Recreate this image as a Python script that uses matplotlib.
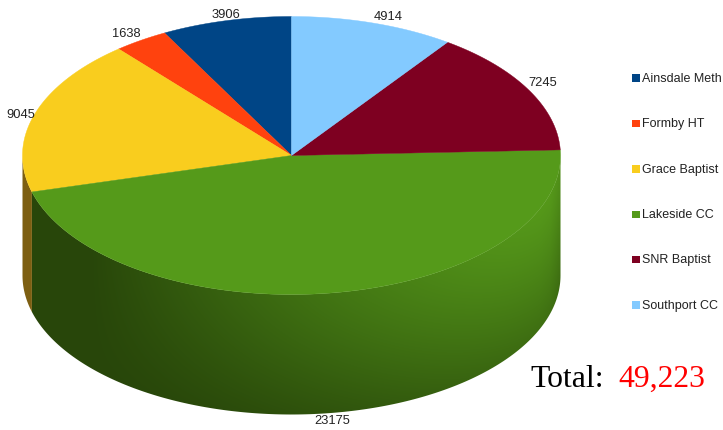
import numpy as np
import matplotlib
matplotlib.use('Agg')
import matplotlib.pyplot as plt
from matplotlib.patches import Polygon

names = ['Ainsdale Meth', 'Formby HT', 'Grace Baptist', 'Lakeside CC', 'SNR Baptist', 'Southport CC']
votes = [3906, 1638, 9045, 23175, 7245, 4914]
total_text = '49,223'

colors = ['#004586', '#ff420e', '#f9cd1e', '#559a1a', '#7e0021', '#83caff']
wall_colors = ['#002a50', '#99280a', '#7d5f12', '#2a4a0b', '#5a0a1a', '#4f7999']

#-----------------------------------#
cx, cy = 291.5, 155.5  # centre of the top face
rx, ry = 269, 139      # radii of the top ellipse
depth = 120            # height of the cylinder wall
#-----------------------------------#

def rim(angle_deg):
    '''point on the top ellipse, angle measured anticlockwise from 12 o'clock'''
    t = np.radians(angle_deg)
    return cx - rx * np.sin(t), cy - ry * np.cos(t)

def wall_shade(x, y):
    '''brightness 0-1 of the side wall: lit towards the upper right'''
    u = np.clip((x - cx) / rx, -1, 1)
    v = np.clip((y - (cy + ry * np.sqrt(1 - u**2))) / depth, 0, 1)
    h = np.clip((x - 90) / 450, 0, 1)
    k = 0.95 - 0.45 * h
    f = h**0.9 * (1 - k * v**1.2)
    # edge of the cylinder falls off slightly
    f = f * (1 - 0.1 * np.clip((x - 550) / 10, 0, 1))
    return np.clip(f, 0, 1)

fig = plt.figure(figsize=(7.23, 4.30), dpi=100)
ax = fig.add_axes([0, 0, 1, 1])
ax.set_xlim(0, 723)
ax.set_ylim(430, 0)
ax.axis('off')

shares = np.array(votes) / sum(votes) * 360
ends = np.cumsum(shares)
starts = ends - shares

# side wall first, only the part facing the viewer (90-270 degrees)
for i in range(len(votes)):
    a0 = max(starts[i], 90)
    a1 = min(ends[i], 270)
    if a1 <= a0:
        continue
    xs, ys = rim(np.linspace(a0, a1, 200))
    outline = np.r_[np.c_[xs, ys], np.c_[xs[::-1], ys[::-1] + depth]]
    if names[i] == 'Lakeside CC':
        gx, gy = np.meshgrid(np.arange(0, 723) + 0.5, np.arange(0, 430) + 0.5)
        f = wall_shade(gx, gy)[..., None]
        dark = np.array([40, 70, 10]) / 255
        light = np.array([85, 152, 26]) / 255
        im = ax.imshow(dark + (light - dark) * f, extent=(0, 723, 430, 0), aspect='auto', zorder=1)
        patch = Polygon(outline, closed=True, fc='none', ec='none', transform=ax.transData)
        ax.add_patch(patch)
        im.set_clip_path(patch)
    else:
        ax.fill(outline[:, 0], outline[:, 1], color=wall_colors[i], lw=0, zorder=2)

# top face
for i in range(len(votes)):
    xs, ys = rim(np.linspace(starts[i], ends[i], 200))
    ax.fill(np.r_[cx, xs], np.r_[cy, ys], color=colors[i], lw=0.3, zorder=3)

# value labels sit just outside the rim at the middle of each slice
for i in range(len(votes)):
    mid = (starts[i] + ends[i]) / 2
    x, y = rim(mid)
    s = np.sin(np.radians(mid))
    c = np.cos(np.radians(mid))
    if abs(s) < 0.27:
        ha = 'center'
    else:
        ha = 'right' if s > 0 else 'left'
    if c < 0:
        y = y + depth + 8
    elif c > 0.4:
        y = y - 6
    else:
        y = y + 1
    ax.text(x, y, str(votes[i]), ha=ha, va='center', fontsize=9.3, color='#222222',
            family='Liberation Sans', zorder=5)

# legend
legend_y = 78 + 45.4 * np.arange(len(names))
for i in range(len(names)):
    ax.fill([632, 639.5, 639.5, 632],
            [legend_y[i] - 3.7, legend_y[i] - 3.7, legend_y[i] + 3.7, legend_y[i] + 3.7],
            color=colors[i], lw=0, zorder=5)
    ax.text(642, legend_y[i] + 0.7, names[i], ha='left', va='center', fontsize=9,
            color='#222222', family='Liberation Sans')

ax.text(530.5, 387, 'Total:', ha='left', va='baseline', fontsize=22.8, color='black',
        family='Liberation Serif')
ax.text(618, 387, total_text, ha='left', va='baseline', fontsize=22.8, color='#ff0000',
        family='Liberation Serif')

fig.savefig('out.png', dpi=100)
